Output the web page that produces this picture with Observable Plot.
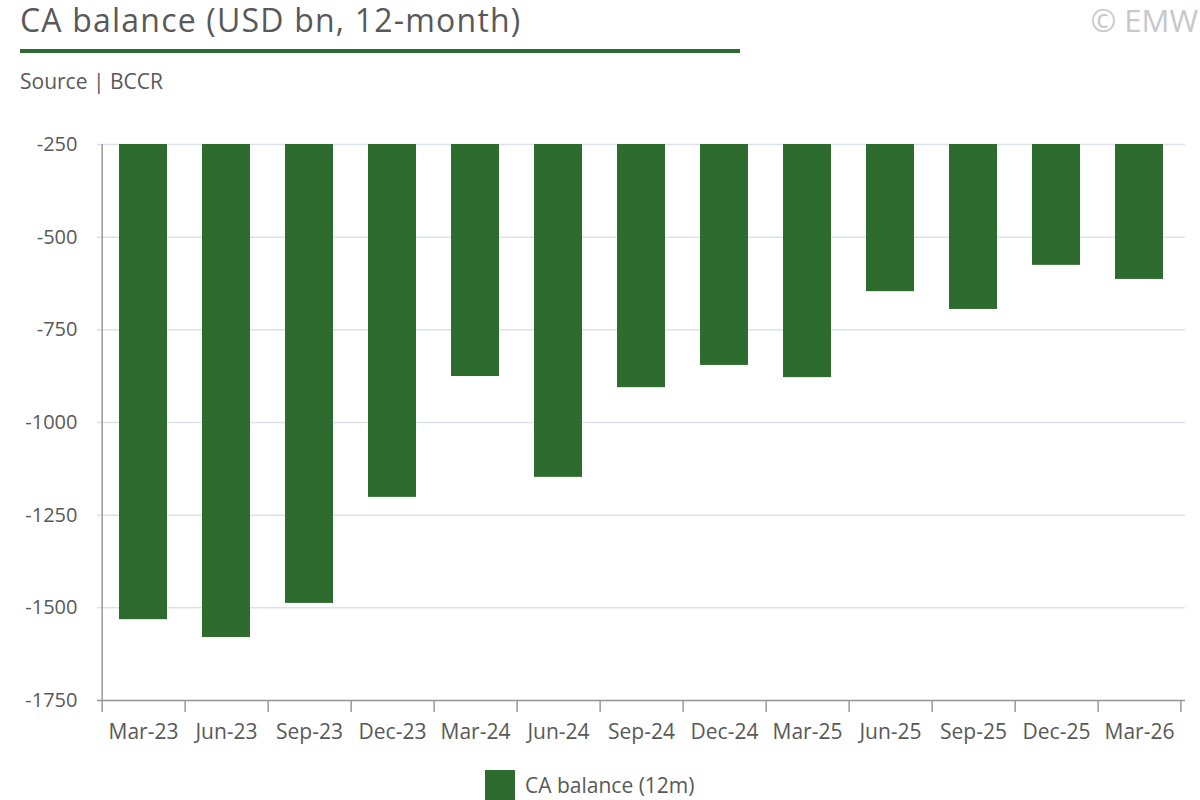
<!DOCTYPE html>
<html><head><meta charset="utf-8">
<script src="https://cdn.jsdelivr.net/npm/d3@7"></script>
<script src="https://cdn.jsdelivr.net/npm/@observablehq/plot@0.6"></script>
<style>
body{margin:0;width:1200px;height:800px;overflow:hidden;font-family:"Open Sans",sans-serif;color:#595959;background:#fff;position:relative}
#title{position:absolute;left:20px;top:0px;font-size:32px;line-height:40px;letter-spacing:1.2px}
#line{position:absolute;left:20px;top:49px;width:720px;height:4px;background:#2e6b2e}
#src{position:absolute;left:20px;top:67px;font-size:21px}
#emw{position:absolute;right:2px;top:0px;font-size:31px;line-height:40px;color:#c8c8c8}
#chart{position:absolute;left:0;top:110px}
#legend{position:absolute;left:485px;top:770px;font-size:21px;display:flex;align-items:center}
#legend span{display:inline-block;width:30px;height:30px;background:#2e6b2e;margin-right:10px}
</style></head><body>
<div id="title">CA balance (USD bn, 12-month)</div>
<div id="line"></div>
<div id="src">Source | BCCR</div>
<div id="emw">© EMW</div>
<div id="chart"></div>
<div id="legend"><span></span>CA balance (12m)</div>
<script>
const categories=["Mar-23","Jun-23","Sep-23","Dec-23","Mar-24","Jun-24","Sep-24","Dec-24","Mar-25","Jun-25","Sep-25","Dec-25","Mar-26"];
const values=[-1532,-1580,-1488,-1202,-876,-1148,-906,-846,-879,-647,-695,-576,-614];
const yTicks=[-250,-500,-750,-1000,-1250,-1500,-1750];
const data=categories.map((c,i)=>({c,v:values[i]}));
const step=(1180-105)/categories.length;
const chart=Plot.plot({
  width:1200,height:650,marginTop:34,marginBottom:60,marginLeft:97,marginRight:15,
  style:{fontFamily:"'Open Sans', sans-serif",fontSize:"20px",color:"#595959"},
  x:{domain:categories,paddingInner:0.42,paddingOuter:0.21,label:null},
  y:{domain:[-1750,-250],label:null},
  marks:[
    Plot.gridY(yTicks,{stroke:"#dbe3ea",strokeOpacity:1,strokeWidth:1.5}),
    Plot.barY(data,{x:"c",y1:-250,y2:"v",fill:"#2e6b2e"}),
    Plot.axisY(yTicks,{tickSize:0,tickPadding:20,fontSize:20,fill:"#595959",tickFormat:d=>String(d)}),
    Plot.axisX({tickSize:0,tickPadding:24,fontSize:21,fill:"#595959"}),
    Plot.axisX({tickSize:12,tickFormat:null,dx:-step/2,stroke:"#999",strokeWidth:1.5}),
    Plot.axisX([categories[categories.length-1]],{tickSize:12,tickFormat:null,dx:step/2,stroke:"#999",strokeWidth:1.5}),
    Plot.ruleY([-1750],{stroke:"#999",strokeWidth:1.5}),
    Plot.ruleX([categories[0]],{y1:-1750,y2:-250,stroke:"#999",strokeWidth:1.5,dx:-step/2})
  ]
});
document.getElementById("chart").append(chart);
</script></body></html>
